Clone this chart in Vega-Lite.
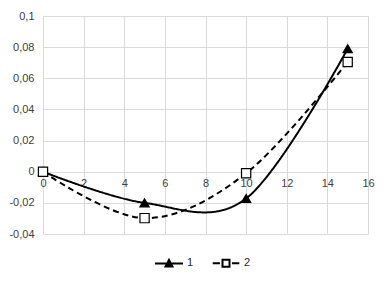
{
  "$schema": "https://vega.github.io/schema/vega-lite/v6.json",
  "autosize": "none",
  "width": 325,
  "height": 218,
  "padding": {"left": 43, "top": 16, "right": 18, "bottom": 50},
  "background": "white",
  "config": {
    "view": {"stroke": null},
    "font": "Liberation Sans Narrow, Liberation Sans, sans-serif",
    "axis": {"labelFont": "Liberation Sans Narrow, Liberation Sans, sans-serif", "labelFontSize": 11, "labelColor": "#404040", "gridColor": "#d9d9d9", "gridWidth": 1, "domain": false, "ticks": false, "title": null},
    "legend": {"orient": "none", "legendX": 118, "legendY": 239, "direction": "horizontal", "title": null, "labelFontSize": 11, "labelColor": "#262626", "symbolSize": 196, "columnPadding": 14, "labelOffset": 10, "symbolStrokeWidth": 2, "symbolStrokeColor": "black", "symbolOpacity": 1}
  },
  "data": {"values": [
    {"x": 0, "y": 0, "series": "1"},
    {"x": 5, "y": -0.020, "series": "1"},
    {"x": 10, "y": -0.0172, "series": "1"},
    {"x": 15, "y": 0.079, "series": "1"},
    {"x": 0, "y": 0, "series": "2"},
    {"x": 5, "y": -0.0298, "series": "2"},
    {"x": 10, "y": -0.001, "series": "2"},
    {"x": 15, "y": 0.0705, "series": "2"}
  ]},
  "encoding": {
    "x": {"field": "x", "type": "quantitative", "scale": {"domain": [0, 16], "nice": false},
      "axis": {"values": [0, 2, 4, 6, 8, 10, 12, 14, 16], "offset": -62, "labelPadding": 5, "labelFlush": false}},
    "y": {"field": "y", "type": "quantitative", "scale": {"domain": [-0.04, 0.1], "nice": false, "zero": false},
      "axis": {"values": [-0.04, -0.02, 0, 0.02, 0.04, 0.06, 0.08, 0.1], "labelPadding": 9,
        "labelExpr": "replace(replace(format(datum.value, '.2~f'), '.', ','), '\u2212', '-')"}}
  },
  "layer": [
    {
      "mark": {"type": "line", "interpolate": "cardinal", "color": "black", "strokeWidth": 2},
      "encoding": {
        "detail": {"field": "series", "type": "nominal"},
        "strokeDash": {"condition": {"test": "datum.series === '2'", "value": [6, 4]}, "value": [1, 0]}
      }
    },
    {
      "mark": {"type": "point", "filled": false, "stroke": "black", "strokeWidth": 1.2, "opacity": 1, "size": 85},
      "encoding": {
        "shape": {"condition": {"test": "datum.series === '1'", "value": "triangle-up"}, "value": "square"},
        "fill": {"condition": {"test": "datum.series === '1'", "value": "black"}, "value": "white"}
      }
    },
    {
      "mark": {"type": "point", "filled": false, "color": "black", "strokeWidth": 2, "size": 0},
      "encoding": {
        "shape": {"field": "series", "type": "nominal",
          "scale": {"domain": ["1", "2"], "range": ["M-2,0H2M-0.5,0.45L0,-0.5L0.5,0.45ZM-0.28,0.3L0,-0.2L0.28,0.3ZM0,-0.3V0.4", "M-1.9,0H-0.85M0.85,0H1.9M-0.5,-0.5H0.5V0.5H-0.5Z"]}}
      }
    }
  ]
}
